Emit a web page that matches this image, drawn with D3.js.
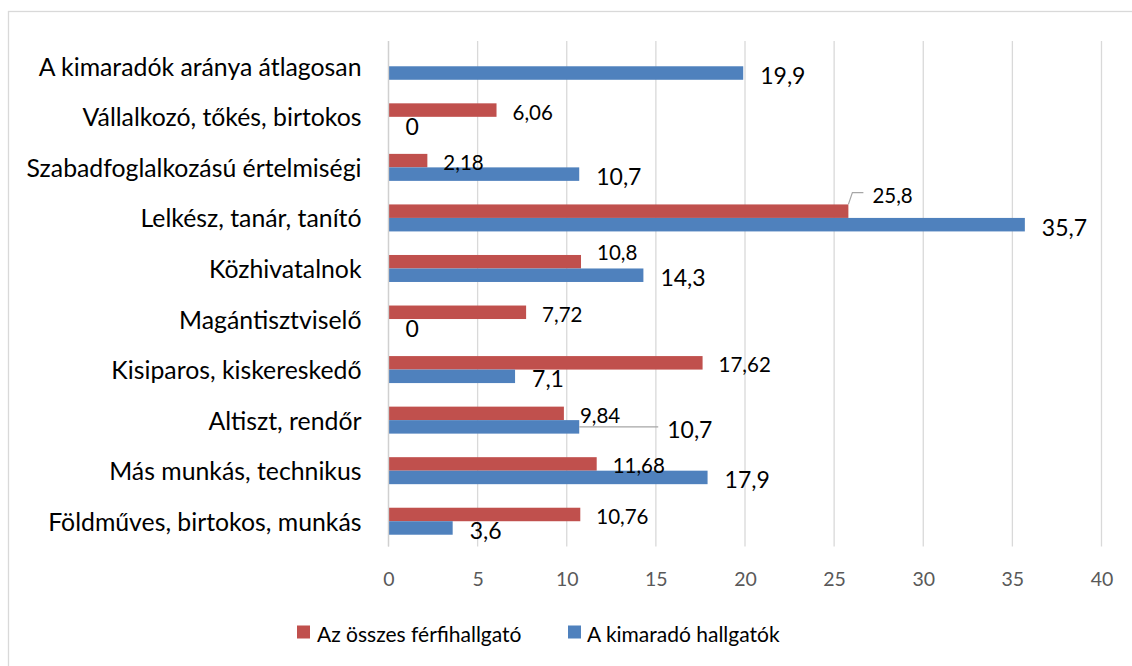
<!DOCTYPE html>
<html><head><meta charset="utf-8">
<script src="https://cdn.jsdelivr.net/npm/d3@7"></script>
<style>html,body{margin:0;padding:0;background:#fff;}</style>
</head><body>
<svg id="chart" width="1132" height="666"></svg>
<script>
// ---- data ----
const categories = [
  "A kimaradók aránya átlagosan",
  "Vállalkozó, tőkés, birtokos",
  "Szabadfoglalkozású értelmiségi",
  "Lelkész, tanár, tanító",
  "Közhivatalnok",
  "Magántisztviselő",
  "Kisiparos, kiskereskedő",
  "Altiszt, rendőr",
  "Más munkás, technikus",
  "Földműves, birtokos, munkás"
];
const seriesNames = ["Az összes férfihallgató", "A kimaradó hallgatók"];
const allMale = [null, 6.06, 2.18, 25.8, 10.8, 7.72, 17.62, 9.84, 11.68, 10.76];
const dropouts = [19.9, 0, 10.7, 35.7, 14.3, 0, 7.1, 10.7, 17.9, 3.6];
const xTicks = [0, 5, 10, 15, 20, 25, 30, 35, 40];

// ---- layout / style ----
const colors = ["#C0504D", "#4F81BD"];
const font = "Lato, 'Open Sans', sans-serif";
const svg = d3.select("#chart");
const plot = {left: 388.5, right: 1101.5, top: 41, bottom: 546.5};

// manual label adjustments (Excel-style moved labels)
const labelAdjust = {
  "Lelkész, tanár, tanító|0": {dx: 8, dy: -18, leader: "elbow"},
  "Közhivatalnok|0": {dx: 0, dy: -11},
  "Altiszt, rendőr|1": {dx: 71, dy: 0, leader: "flat"}
};

svg.append("rect").attr("x", 8.5).attr("y", 11.5).attr("width", 1130).attr("height", 660)
  .attr("fill", "#fff").attr("stroke", "#d9d9d9").attr("stroke-width", 1.3);

const x = d3.scaleLinear().domain([0, 40]).range([plot.left, plot.right]);
const y = d3.scaleBand().domain(categories).range([plot.top, plot.bottom])
  .paddingInner(0.466).paddingOuter(0.233);
const ys = d3.scaleBand().domain([0, 1]).range([0, y.bandwidth()]);

// gridlines
svg.append("g").selectAll("line").data(xTicks).join("line")
  .attr("x1", d => x(d)).attr("x2", d => x(d))
  .attr("y1", plot.top).attr("y2", plot.bottom)
  .attr("stroke", "#d9d9d9").attr("stroke-width", 1.3);

// x tick labels
const xAxis = d3.axisBottom(x).tickValues(xTicks).tickSize(0).tickPadding(0).tickFormat(d3.format("d"));
const gx = svg.append("g").attr("transform", `translate(0,${plot.bottom})`).call(xAxis);
gx.select(".domain").remove();
gx.selectAll("text").attr("font-family", font).attr("font-size", 19.5).attr("fill", "#595959")
  .attr("dy", null).attr("y", 31.5).attr("dominant-baseline", "central");

// category labels
const yAxis = d3.axisLeft(y).tickSize(0).tickPadding(27);
const gy = svg.append("g").attr("transform", `translate(${plot.left},0)`).call(yAxis);
gy.select(".domain").remove();
gy.selectAll("text").attr("font-family", font).attr("font-size", 24.8).attr("fill", "#000")
  .attr("dy", null).attr("dominant-baseline", "central");

// bars
const series = [allMale, dropouts];
const barData = [];
categories.forEach((c, i) => {
  series.forEach((s, k) => {
    if (s[i] !== null) barData.push({cat: c, k, v: s[i]});
  });
});
svg.append("g").selectAll("rect").data(barData.filter(d => d.v > 0)).join("rect")
  .attr("x", x(0)).attr("y", d => y(d.cat) + ys(d.k))
  .attr("width", d => x(d.v) - x(0)).attr("height", ys.bandwidth())
  .attr("fill", d => colors[d.k]);

// axis line at 0
svg.append("line").attr("x1", x(0)).attr("x2", x(0)).attr("y1", plot.top).attr("y2", plot.bottom)
  .attr("stroke", "#d0d0d0").attr("stroke-width", 1.3);

// data labels
const fmt = v => String(v).replace(".", ",");
const lbl = svg.append("g");
barData.forEach(d => {
  const adj = labelAdjust[d.cat + "|" + d.k] || {dx: 0, dy: 0};
  const bx = x(d.v), by = y(d.cat) + ys(d.k) + ys.bandwidth() / 2;
  const lx = bx + (d.k === 0 ? 16 : 17) + adj.dx;
  const ly = by + (d.k === 0 ? 1.5 : 2) + adj.dy;
  if (adj.leader === "elbow") {
    const top = y(d.cat) + ys(d.k);
    lbl.append("polyline")
      .attr("points", `${bx},${top} ${bx + 4},${ly - 2} ${bx + 15},${ly - 2}`)
      .attr("fill", "none").attr("stroke", "#a6a6a6").attr("stroke-width", 1.2);
  } else if (adj.leader === "flat") {
    lbl.append("line").attr("x1", bx).attr("x2", lx - 9).attr("y1", by).attr("y2", by)
      .attr("stroke", "#a6a6a6").attr("stroke-width", 1.3);
  }
  lbl.append("text").attr("x", lx).attr("y", ly)
    .attr("dominant-baseline", "central")
    .attr("font-family", font).attr("font-size", d.k === 0 ? 20.5 : 23)
    .attr("fill", "#000").text(fmt(d.v));
});

// legend
const legendItems = [{x: 297, tx: 317}, {x: 568, tx: 587}];
const lg = svg.append("g");
seriesNames.forEach((n, k) => {
  lg.append("rect").attr("x", legendItems[k].x).attr("y", 625.5).attr("width", 13).attr("height", 13)
    .attr("fill", colors[k]);
  lg.append("text").attr("x", legendItems[k].tx).attr("y", 633).attr("dominant-baseline", "central")
    .attr("font-family", font).attr("font-size", 21).attr("fill", "#000").text(n);
});
</script>
</body></html>
